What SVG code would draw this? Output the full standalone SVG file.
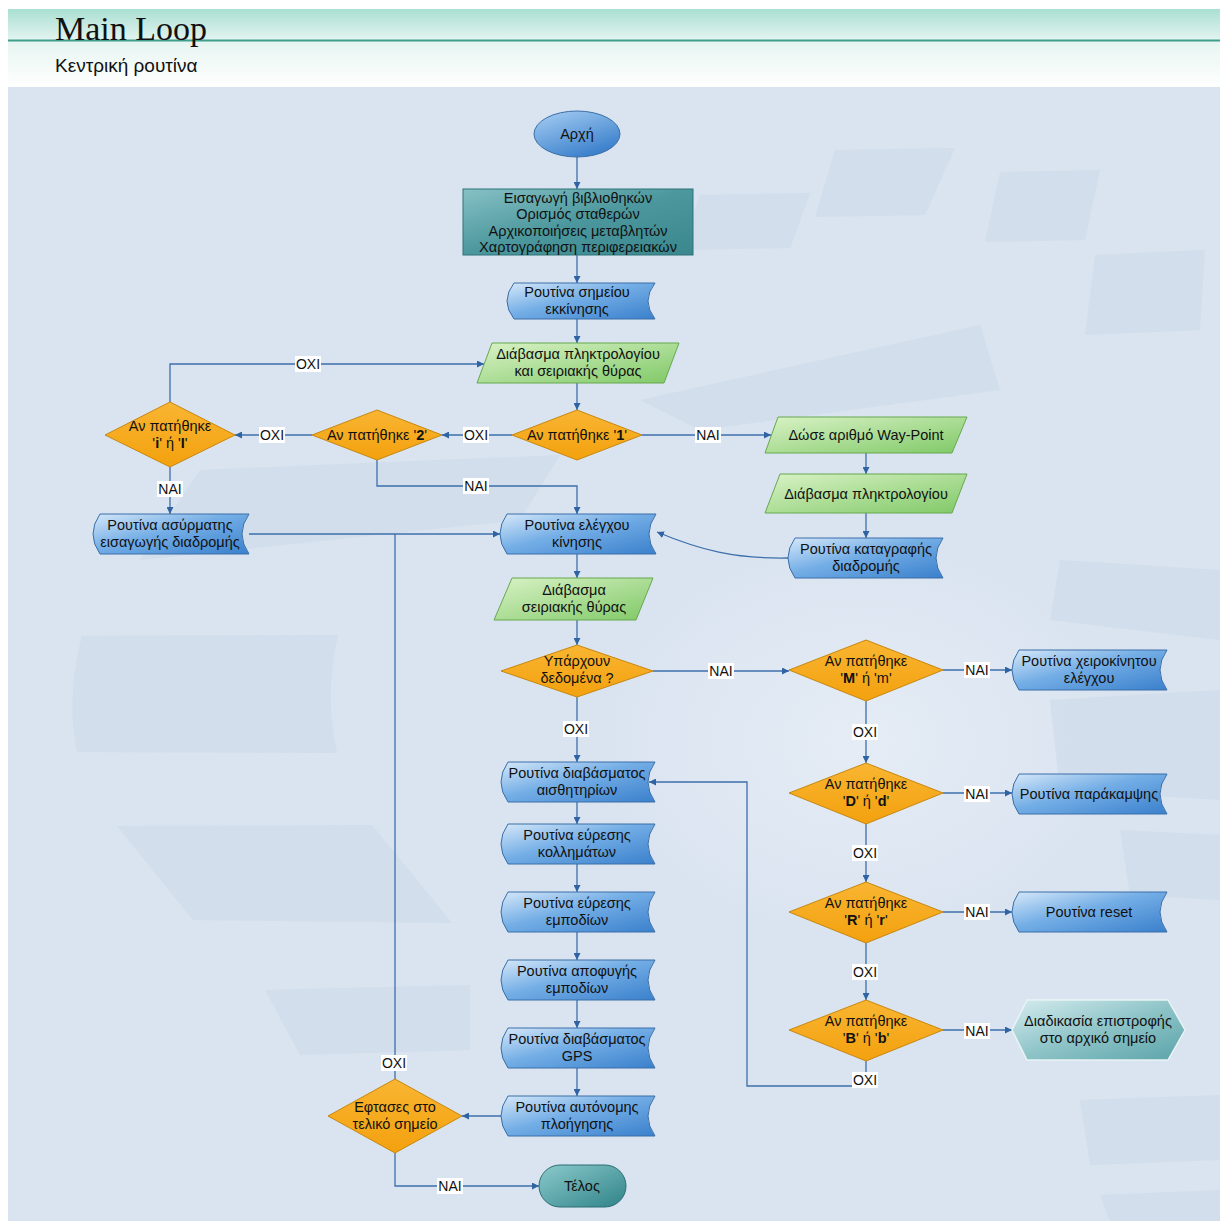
<svg xmlns="http://www.w3.org/2000/svg" width="1220" height="1221" viewBox="0 0 1220 1221">
  <defs>
    <linearGradient id="gHeadTop" x1="0" y1="0" x2="0" y2="1">
      <stop offset="0" stop-color="#a9dfd2"/>
      <stop offset="1" stop-color="#e3f4f0"/>
    </linearGradient>
    <linearGradient id="gHeadBot" x1="0" y1="0" x2="0" y2="1">
      <stop offset="0" stop-color="#e6f5f1"/>
      <stop offset="1" stop-color="#ffffff"/>
    </linearGradient>
    <radialGradient id="gGlow" cx="0.5" cy="0.5" r="0.5">
      <stop offset="0" stop-color="#e6edf6" stop-opacity="0.9"/>
      <stop offset="1" stop-color="#e6edf6" stop-opacity="0"/>
    </radialGradient>
    <linearGradient id="gBlue" x1="0" y1="0" x2="1" y2="1">
      <stop offset="0" stop-color="#d6e8f9"/>
      <stop offset="0.45" stop-color="#74aee6"/>
      <stop offset="1" stop-color="#3a80cc"/>
    </linearGradient>
    <linearGradient id="gEllipse" x1="0" y1="0" x2="0.6" y2="1">
      <stop offset="0" stop-color="#a9d0f4"/>
      <stop offset="1" stop-color="#3b80cc"/>
    </linearGradient>
    <linearGradient id="gGreen" x1="0" y1="0" x2="1" y2="1">
      <stop offset="0" stop-color="#d9f2c6"/>
      <stop offset="1" stop-color="#80c967"/>
    </linearGradient>
    <linearGradient id="gOrange" x1="0" y1="0" x2="0" y2="1">
      <stop offset="0" stop-color="#f9b532"/>
      <stop offset="1" stop-color="#f3a10e"/>
    </linearGradient>
    <linearGradient id="gTeal" x1="0" y1="0" x2="1" y2="1">
      <stop offset="0" stop-color="#86c1c5"/>
      <stop offset="0.5" stop-color="#4b979d"/>
      <stop offset="1" stop-color="#3a878d"/>
    </linearGradient>
    <linearGradient id="gEnd" x1="0" y1="0" x2="1" y2="1">
      <stop offset="0" stop-color="#8ccacc"/>
      <stop offset="1" stop-color="#2f8388"/>
    </linearGradient>
    <linearGradient id="gHex" x1="0" y1="0" x2="1" y2="1">
      <stop offset="0" stop-color="#d5ecee"/>
      <stop offset="0.5" stop-color="#8ec4c8"/>
      <stop offset="1" stop-color="#5ba4a9"/>
    </linearGradient>
    <marker id="arr" viewBox="0 0 10 10" refX="10" refY="5" markerWidth="7" markerHeight="7" markerUnits="userSpaceOnUse" orient="auto">
      <path d="M0,0 L10,5 L0,10 Z" fill="#2f63a3"/>
    </marker>
    <style>
      .proc { fill: url(#gBlue); stroke: #3a6ea8; stroke-width: 1; }
      .io { fill: url(#gGreen); stroke: #67a84e; stroke-width: 1; }
      .dec { fill: url(#gOrange); stroke: #c8870f; stroke-width: 1; }
      .t { font-family: "Liberation Sans", Arial, sans-serif; font-size: 14.5px; fill: #111; text-anchor: middle; }
      .b { font-weight: bold; }
      .lbl { font-family: "Liberation Sans", Arial, sans-serif; font-size: 14px; fill: #111; text-anchor: middle; }
      .lblbg { fill: #ffffff; }
      .edge { fill: none; stroke: #3d6fab; stroke-width: 1.3; }
      .arrow { marker-end: url(#arr); }
      .bgtile { fill: #cad7e8; opacity: 0.5; }
    </style>
  </defs>

  <!-- page -->
  <rect x="0" y="0" width="1220" height="1221" fill="#ffffff"/>

  <!-- header band -->
  <g id="header">
    <rect x="8" y="9" width="1212" height="31" fill="url(#gHeadTop)"/>
    <rect x="8" y="41" width="1212" height="46" fill="url(#gHeadBot)"/>
    <line x1="8" y1="40.5" x2="1220" y2="40.5" stroke="#3f9d8c" stroke-width="2"/>
    <text x="55" y="40" font-family="Liberation Serif, 'Times New Roman', serif" font-size="34" fill="#111">Main Loop</text>
    <text x="55" y="72" font-family="'Liberation Sans', Arial, sans-serif" font-size="19" fill="#111">Κεντρική ρουτίνα</text>
  </g>

  <!-- canvas with faint decorative tiles -->
  <g id="backdrop">
    <rect x="8" y="87" width="1212" height="1134" fill="#dae4f0"/>
    <ellipse cx="860" cy="740" rx="260" ry="200" fill="url(#gGlow)"/>
    <path class="bgtile" d="M835,150 L955,148 L925,215 L815,217 Z"/>
    <path class="bgtile" d="M700,195 L810,193 L790,248 L680,250 Z"/>
    <path class="bgtile" d="M1000,172 L1100,170 L1085,240 L985,242 Z"/>
    <path class="bgtile" d="M1095,255 L1205,250 L1200,330 L1085,335 Z"/>
    <path class="bgtile" d="M640,400 L980,325 L1000,390 L700,430 Z"/>
    <path class="bgtile" d="M200,470 L560,455 L520,520 L140,560 Z"/>
    <path class="bgtile" d="M82,636 L338,635 Q324,694 337,753 L77,752 Q66,694 82,636 Z"/>
    <path class="bgtile" d="M117,826 L372,825 L452,923 L193,920 Z"/>
    <path class="bgtile" d="M265,990 L470,985 L470,1050 L300,1055 Z"/>
    <path class="bgtile" d="M1060,560 L1220,570 L1220,640 L1050,620 Z"/>
    <path class="bgtile" d="M1050,700 L1220,690 L1220,800 L1060,790 Z"/>
    <path class="bgtile" d="M1120,830 L1220,835 L1220,900 L1130,895 Z"/>
    <path class="bgtile" d="M1080,1100 L1220,1095 L1220,1160 L1090,1165 Z"/>
    <path class="bgtile" d="M1100,1195 L1220,1190 L1220,1221 L1110,1221 Z"/>
  </g>

  <!-- connectors -->
  <g id="connectors">
    <path class="edge arrow" d="M577,157 V189"/>
    <path class="edge arrow" d="M577,255 V283"/>
    <path class="edge arrow" d="M577,319 V343"/>
    <path class="edge arrow" d="M577,383 V410"/>
    <path class="edge arrow" d="M642,435 H771"/>
    <path class="edge arrow" d="M512,435 H442"/>
    <path class="edge arrow" d="M312,435 H235"/>
    <path class="edge arrow" d="M377,460 V486 H577 V514"/>
    <path class="edge arrow" d="M170,402 V364 H484"/>
    <path class="edge arrow" d="M170,467 V514"/>
    <path class="edge arrow" d="M249,534 H500"/>
    <path class="edge arrow" d="M866,453 V474"/>
    <path class="edge arrow" d="M866,513 V538"/>
    <path class="edge arrow" d="M788,558 C735,559 700,550 657,532"/>
    <path class="edge arrow" d="M577,554 V578"/>
    <path class="edge arrow" d="M577,620 V645"/>
    <path class="edge arrow" d="M653,671 H789"/>
    <path class="edge arrow" d="M577,697 V762"/>
    <path class="edge arrow" d="M943,670 H1012"/>
    <path class="edge arrow" d="M866,701 V763"/>
    <path class="edge arrow" d="M943,793 H1012"/>
    <path class="edge arrow" d="M866,824 V882"/>
    <path class="edge arrow" d="M943,912 H1012"/>
    <path class="edge arrow" d="M866,943 V1000"/>
    <path class="edge arrow" d="M943,1030 H1012"/>
    <path class="edge arrow" d="M866,1061 V1086 H747 V782 H649"/>
    <path class="edge arrow" d="M577,802 V824"/>
    <path class="edge arrow" d="M577,864 V892"/>
    <path class="edge arrow" d="M577,932 V960"/>
    <path class="edge arrow" d="M577,1000 V1028"/>
    <path class="edge arrow" d="M577,1068 V1096"/>
    <path class="edge arrow" d="M501,1116 H462"/>
    <path class="edge" d="M395,1079 V534"/>
    <path class="edge arrow" d="M395,1153 V1186 H539"/>

    <!-- branch labels -->
    <g>
      <rect class="lblbg" x="295" y="356" width="26" height="16"/><text class="lbl" x="308" y="369">ΟΧΙ</text>
      <rect class="lblbg" x="259" y="427" width="26" height="16"/><text class="lbl" x="272" y="440">ΟΧΙ</text>
      <rect class="lblbg" x="463" y="427" width="26" height="16"/><text class="lbl" x="476" y="440">ΟΧΙ</text>
      <rect class="lblbg" x="695" y="427" width="26" height="16"/><text class="lbl" x="708" y="440">ΝΑΙ</text>
      <rect class="lblbg" x="463" y="478" width="26" height="16"/><text class="lbl" x="476" y="491">ΝΑΙ</text>
      <rect class="lblbg" x="157" y="481" width="26" height="16"/><text class="lbl" x="170" y="494">ΝΑΙ</text>
      <rect class="lblbg" x="708" y="663" width="26" height="16"/><text class="lbl" x="721" y="676">ΝΑΙ</text>
      <rect class="lblbg" x="563" y="721" width="26" height="16"/><text class="lbl" x="576" y="734">ΟΧΙ</text>
      <rect class="lblbg" x="964" y="662" width="26" height="16"/><text class="lbl" x="977" y="675">ΝΑΙ</text>
      <rect class="lblbg" x="852" y="724" width="26" height="16"/><text class="lbl" x="865" y="737">ΟΧΙ</text>
      <rect class="lblbg" x="964" y="786" width="26" height="16"/><text class="lbl" x="977" y="799">ΝΑΙ</text>
      <rect class="lblbg" x="852" y="845" width="26" height="16"/><text class="lbl" x="865" y="858">ΟΧΙ</text>
      <rect class="lblbg" x="964" y="904" width="26" height="16"/><text class="lbl" x="977" y="917">ΝΑΙ</text>
      <rect class="lblbg" x="852" y="964" width="26" height="16"/><text class="lbl" x="865" y="977">ΟΧΙ</text>
      <rect class="lblbg" x="964" y="1023" width="26" height="16"/><text class="lbl" x="977" y="1036">ΝΑΙ</text>
      <rect class="lblbg" x="852" y="1072" width="26" height="16"/><text class="lbl" x="865" y="1085">ΟΧΙ</text>
      <rect class="lblbg" x="381" y="1055" width="26" height="16"/><text class="lbl" x="394" y="1068">ΟΧΙ</text>
      <rect class="lblbg" x="437" y="1178" width="26" height="16"/><text class="lbl" x="450" y="1191">ΝΑΙ</text>
    </g>
  </g>

  <!-- nodes -->
  <g id="n-start">
    <ellipse cx="577" cy="134" rx="43" ry="23" fill="url(#gEllipse)" stroke="#3a6ea8"/>
    <text class="t" x="577" y="139">Αρχή</text>
  </g>

  <g id="n-init">
    <rect x="463" y="189" width="230" height="66" fill="url(#gTeal)" stroke="#2d7278"/>
    <text class="t" x="578" y="203">Εισαγωγή βιβλιοθηκών</text>
    <text class="t" x="578" y="219">Ορισμός σταθερών</text>
    <text class="t" x="578" y="236">Αρχικοποιήσεις μεταβλητών</text>
    <text class="t" x="578" y="252">Χαρτογράφηση περιφερειακών</text>
  </g>

  <g id="n-home">
    <path class="proc" d="M514,283 H655 Q641,301 655,319 H514 Q500,301 514,283 Z"/>
    <text class="t" x="577" y="297">Ρουτίνα σημείου</text>
    <text class="t" x="577" y="314">εκκίνησης</text>
  </g>

  <g id="n-read-kb-serial">
    <path class="io" d="M492,343 L679,343 L664,383 L477,383 Z"/>
    <text class="t" x="578" y="359">Διάβασμα πληκτρολογίου</text>
    <text class="t" x="578" y="376">και σειριακής θύρας</text>
  </g>

  <g id="n-key1">
    <path class="dec" d="M577,410 L642,435 L577,460 L512,435 Z"/>
    <text class="t" x="577" y="440">Αν πατήθηκε '<tspan class="b">1</tspan>'</text>
  </g>

  <g id="n-key2">
    <path class="dec" d="M377,410 L442,435 L377,460 L312,435 Z"/>
    <text class="t" x="377" y="440">Αν πατήθηκε '<tspan class="b">2</tspan>'</text>
  </g>

  <g id="n-keyi">
    <path class="dec" d="M170,402 L235,435 L170,467 L105,435 Z"/>
    <text class="t" x="170" y="431">Αν πατήθηκε</text>
    <text class="t" x="170" y="448">'<tspan class="b">i</tspan>' ή '<tspan class="b">I</tspan>'</text>
  </g>

  <g id="n-wireless">
    <path class="proc" d="M100,514 H249 Q235,534 249,554 H100 Q86,534 100,514 Z"/>
    <text class="t" x="170" y="530">Ρουτίνα ασύρματης</text>
    <text class="t" x="170" y="547">εισαγωγής διαδρομής</text>
  </g>

  <g id="n-waypoint">
    <path class="io" d="M778,417 L967,417 L952,453 L765,453 Z"/>
    <text class="t" x="866" y="440">Δώσε αριθμό Way-Point</text>
  </g>

  <g id="n-read-kb">
    <path class="io" d="M780,474 L967,474 L952,513 L765,513 Z"/>
    <text class="t" x="866" y="499">Διάβασμα πληκτρολογίου</text>
  </g>

  <g id="n-record">
    <path class="proc" d="M795,538 H943 Q929,558 943,578 H795 Q781,558 795,538 Z"/>
    <text class="t" x="866" y="554">Ρουτίνα καταγραφής</text>
    <text class="t" x="866" y="571">διαδρομής</text>
  </g>

  <g id="n-motion">
    <path class="proc" d="M507,514 H656 Q642,534 656,554 H507 Q493,534 507,514 Z"/>
    <text class="t" x="577" y="530">Ρουτίνα ελέγχου</text>
    <text class="t" x="577" y="547">κίνησης</text>
  </g>

  <g id="n-read-serial">
    <path class="io" d="M512,578 L653,578 L636,620 L494,620 Z"/>
    <text class="t" x="574" y="595">Διάβασμα</text>
    <text class="t" x="574" y="612">σειριακής θύρας</text>
  </g>

  <g id="n-data">
    <path class="dec" d="M577,645 L653,671 L577,697 L501,671 Z"/>
    <text class="t" x="577" y="666">Υπάρχουν</text>
    <text class="t" x="577" y="683">δεδομένα ?</text>
  </g>

  <g id="n-keym">
    <path class="dec" d="M866,640 L943,670 L866,701 L789,670 Z"/>
    <text class="t" x="866" y="666">Αν πατήθηκε</text>
    <text class="t" x="866" y="683">'<tspan class="b">M</tspan>' ή 'm'</text>
  </g>

  <g id="n-manual">
    <path class="proc" d="M1019,650 H1167 Q1153,670 1167,690 H1019 Q1005,670 1019,650 Z"/>
    <text class="t" x="1089" y="666">Ρουτίνα χειροκίνητου</text>
    <text class="t" x="1089" y="683">ελέγχου</text>
  </g>

  <g id="n-keyd">
    <path class="dec" d="M866,763 L943,793 L866,824 L789,793 Z"/>
    <text class="t" x="866" y="789">Αν πατήθηκε</text>
    <text class="t" x="866" y="806">'<tspan class="b">D</tspan>' ή '<tspan class="b">d</tspan>'</text>
  </g>

  <g id="n-bypass">
    <path class="proc" d="M1019,774 H1167 Q1153,794 1167,814 H1019 Q1005,794 1019,774 Z"/>
    <text class="t" x="1089" y="799">Ρουτίνα παράκαμψης</text>
  </g>

  <g id="n-keyr">
    <path class="dec" d="M866,882 L943,912 L866,943 L789,912 Z"/>
    <text class="t" x="866" y="908">Αν πατήθηκε</text>
    <text class="t" x="866" y="925">'<tspan class="b">R</tspan>' ή '<tspan class="b">r</tspan>'</text>
  </g>

  <g id="n-reset">
    <path class="proc" d="M1019,892 H1167 Q1153,912 1167,932 H1019 Q1005,912 1019,892 Z"/>
    <text class="t" x="1089" y="917">Ρουτίνα reset</text>
  </g>

  <g id="n-keyb">
    <path class="dec" d="M866,1000 L943,1030 L866,1061 L789,1030 Z"/>
    <text class="t" x="866" y="1026">Αν πατήθηκε</text>
    <text class="t" x="866" y="1043">'<tspan class="b">B</tspan>' ή '<tspan class="b">b</tspan>'</text>
  </g>

  <g id="n-return">
    <path d="M1012,1030 L1027,1000 L1168,1000 L1185,1030 L1168,1060 L1027,1060 Z" fill="url(#gHex)" stroke="#e8f3f4" stroke-width="1.5"/>
    <text class="t" x="1098" y="1026">Διαδικασία επιστροφής</text>
    <text class="t" x="1098" y="1043">στο αρχικό σημείο</text>
  </g>

  <g id="n-sensors">
    <path class="proc" d="M508,762 H655 Q641,782 655,802 H508 Q494,782 508,762 Z"/>
    <text class="t" x="577" y="778">Ρουτίνα διαβάσματος</text>
    <text class="t" x="577" y="795">αισθητηρίων</text>
  </g>

  <g id="n-stuck">
    <path class="proc" d="M508,824 H655 Q641,844 655,864 H508 Q494,844 508,824 Z"/>
    <text class="t" x="577" y="840">Ρουτίνα εύρεσης</text>
    <text class="t" x="577" y="857">κολλημάτων</text>
  </g>

  <g id="n-find-obst">
    <path class="proc" d="M508,892 H655 Q641,912 655,932 H508 Q494,912 508,892 Z"/>
    <text class="t" x="577" y="908">Ρουτίνα εύρεσης</text>
    <text class="t" x="577" y="925">εμποδίων</text>
  </g>

  <g id="n-avoid-obst">
    <path class="proc" d="M508,960 H655 Q641,980 655,1000 H508 Q494,980 508,960 Z"/>
    <text class="t" x="577" y="976">Ρουτίνα αποφυγής</text>
    <text class="t" x="577" y="993">εμποδίων</text>
  </g>

  <g id="n-gps">
    <path class="proc" d="M508,1028 H655 Q641,1048 655,1068 H508 Q494,1048 508,1028 Z"/>
    <text class="t" x="577" y="1044">Ρουτίνα διαβάσματος</text>
    <text class="t" x="577" y="1061">GPS</text>
  </g>

  <g id="n-autonav">
    <path class="proc" d="M508,1096 H655 Q641,1116 655,1136 H508 Q494,1116 508,1096 Z"/>
    <text class="t" x="577" y="1112">Ρουτίνα αυτόνομης</text>
    <text class="t" x="577" y="1129">πλοήγησης</text>
  </g>

  <g id="n-arrived">
    <path class="dec" d="M395,1079 L462,1116 L395,1153 L328,1116 Z"/>
    <text class="t" x="395" y="1112">Εφτασες στο</text>
    <text class="t" x="395" y="1129">τελικό σημείο</text>
  </g>

  <g id="n-end">
    <rect x="539" y="1165" width="87" height="42" rx="21" ry="21" fill="url(#gEnd)" stroke="#2a6f74"/>
    <text class="t" x="582" y="1191">Τέλος</text>
  </g>
</svg>
